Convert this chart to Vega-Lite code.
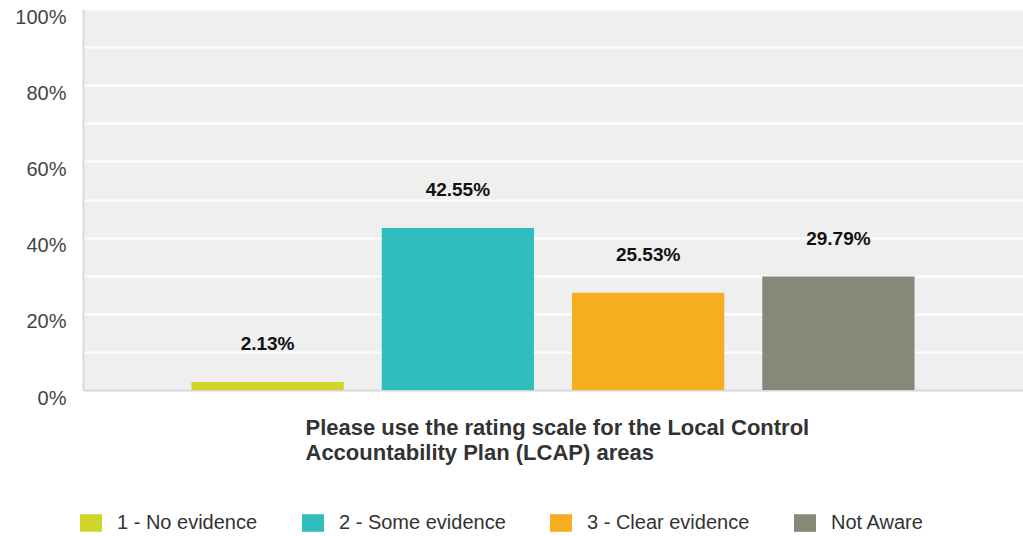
{
  "$schema": "https://vega.github.io/schema/vega-lite/v6.json",
  "width": 940,
  "height": 381,
  "autosize": "none",
  "padding": {"left": 83, "top": 9, "right": 0, "bottom": 146},
  "background": "white",
  "config": {
    "view": {"fill": "#efefef", "stroke": null},
    "font": "Liberation Sans"
  },
  "data": {
    "values": [
      {"rating": "1 - No evidence", "pct": 0.0213},
      {"rating": "2 - Some evidence", "pct": 0.4255},
      {"rating": "3 - Clear evidence", "pct": 0.2553},
      {"rating": "Not Aware", "pct": 0.2979}
    ]
  },
  "encoding": {
    "x": {
      "field": "rating",
      "type": "nominal",
      "sort": null,
      "scale": {"paddingInner": 0.2, "paddingOuter": 0.57},
      "axis": {
        "labels": false,
        "ticks": false,
        "domain": true,
        "domainColor": "#d6d6d6",
        "domainWidth": 2,
        "title": ["Please use the rating scale for the Local Control", "Accountability Plan (LCAP) areas"],
        "titleX": 222,
        "titleY": 27,
        "titleAlign": "left",
        "titleBaseline": "top",
        "titleLineHeight": 25,
        "titleFontSize": 22,
        "titleFontWeight": "bold",
        "titleColor": "#333333"
      }
    },
    "y": {
      "field": "pct",
      "type": "quantitative",
      "scale": {"domain": [0, 1]},
      "axis": {
        "values": [0, 0.1, 0.2, 0.3, 0.4, 0.5, 0.6, 0.7, 0.8, 0.9, 1],
        "labelExpr": "round(datum.value*10)%2==0 ? format(datum.value,'.0%') : ''",
        "ticks": false,
        "grid": true,
        "gridColor": "#ffffff",
        "gridWidth": 2,
        "domain": true,
        "domainColor": "#d9d9d9",
        "domainWidth": 2,
        "labelFontSize": 20,
        "labelColor": "#444444",
        "labelPadding": 17,
        "labelOffset": 8,
        "title": null
      }
    }
  },
  "layer": [
    {
      "mark": {"type": "bar"},
      "encoding": {
        "color": {
          "field": "rating",
          "type": "nominal",
          "sort": null,
          "scale": {
            "domain": ["1 - No evidence", "2 - Some evidence", "3 - Clear evidence", "Not Aware"],
            "range": ["#cfd52a", "#30bdbe", "#f6ae21", "#878877"]
          },
          "legend": {
            "orient": "none",
            "legendX": -3,
            "legendY": 503,
            "direction": "horizontal",
            "title": null,
            "symbolType": "M-1,-0.8H1V0.8H-1Z",
            "symbolSize": 484,
            "symbolStrokeWidth": 0,
            "symbolOpacity": 1,
            "labelFontSize": 20,
            "labelColor": "#333333",
            "labelOffset": 15,
            "labelLimit": 400,
            "columnPadding": 44
          }
        }
      }
    },
    {
      "mark": {"type": "text", "dy": -38, "fontWeight": "bold", "fontSize": 19, "color": "#111111", "baseline": "middle"},
      "encoding": {
        "text": {"field": "pct", "type": "quantitative", "format": ".2%"}
      }
    }
  ]
}
